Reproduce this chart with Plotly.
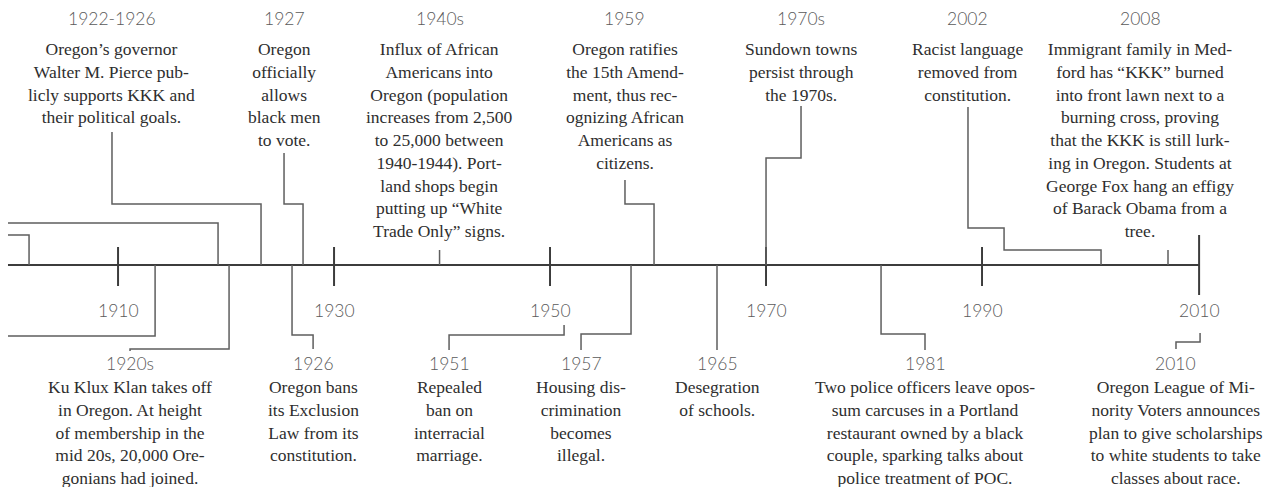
import plotly.graph_objects as go

# ---------------- data ----------------
tick_years = [1910, 1930, 1950, 1970, 1990, 2010]
tick_labels = ["1910", "1930", "1950", "1970", "1990", "2010"]

event_dates = ["1922-1926", "1927", "1940s", "1959", "1970s", "2002", "2008",
               "1920s", "1926", "1951", "1957", "1965", "1981", "2010"]
event_years = [1923.24, 1927.13, 1939.77, 1959.63, 1970.0, 2001.02, 2007.22,
               1920.28, 1926.11, 1951.30, 1957.50, 1965.46, 1980.65, 2010.19]
event_side = ["top"] * 7 + ["bottom"] * 7
event_text = [
    "Oregon’s governor<br>Walter M. Pierce pub-<br>licly supports KKK and<br>their political goals.",
    "Oregon<br>officially<br>allows<br>black men<br>to vote.",
    "Influx of African<br>Americans into<br>Oregon (population<br>increases from 2,500<br>to 25,000 between<br>1940-1944). Port-<br>land shops begin<br>putting up “White<br>Trade Only” signs.",
    "Oregon ratifies<br>the 15th Amend-<br>ment, thus rec-<br>ognizing African<br>Americans as<br>citizens.",
    "Sundown towns<br>persist through<br>the 1970s.",
    "Racist language<br>removed from<br>constitution.",
    "Immigrant family in Med-<br>ford has “KKK” burned<br>into front lawn next to a<br>burning cross, proving<br>that the KKK is still lurk-<br>ing in Oregon. Students at<br>George Fox hang an effigy<br>of Barack Obama from a<br>tree.",
    "Ku Klux Klan takes off<br>in Oregon. At height<br>of membership in the<br>mid 20s, 20,000 Ore-<br>gonians had joined.",
    "Oregon bans<br>its Exclusion<br>Law from its<br>constitution.",
    "Repealed<br>ban on<br>interracial<br>marriage.",
    "Housing dis-<br>crimination<br>becomes<br>illegal.",
    "Desegration<br>of schools.",
    "Two police officers leave opos-<br>sum carcuses in a Portland<br>restaurant owned by a black<br>couple, sparking talks about<br>police treatment of POC.",
    "Oregon League of Mi-<br>nority Voters announces<br>plan to give scholarships<br>to white students to take<br>classes about race.",
]
# earlier events whose labels lie left of the visible window (axis attach years)
offscreen_years = [1919.26, 1901.76, 1913.43]
offscreen_side = ["top", "top", "bottom"]

# ---------------- layout (positions, styles) ----------------
X0, X1 = 1899.07, 2016.85          # visible year window
AXIS_Y = 265
LINE_START = 1899.81
label_x = [1909.44, 1925.37, 1939.77, 1956.94, 1973.24, 1988.70, 2004.63,
           1911.11, 1928.06, 1940.65, 1952.87, 1965.46, 1984.72, 2007.96]
# each route: list of points; "A" = anchor year, "L" = label x
routes = [
    [("A", AXIS_Y), ("A", 204), ("L", 204), ("L", 132)],
    [("A", AXIS_Y), ("A", 204), ("L", 204), ("L", 153)],
    [("A", AXIS_Y), ("A", 250)],
    [("A", AXIS_Y), ("A", 204), ("L", 204), ("L", 180)],
    [("A", AXIS_Y), ("A", 158), ("L", 158), ("L", 106)],
    [("A", AXIS_Y), ("A", 250), (1992.04, 250), (1992.04, 228), ("L", 228), ("L", 107)],
    [("A", AXIS_Y), ("A", 250)],
    [("A", AXIS_Y), ("A", 349), ("L", 349), ("L", 351)],
    [("A", AXIS_Y), ("A", 335), ("L", 335), ("L", 349)],
    [("A", 325), ("A", 335), ("L", 335), ("L", 350)],
    [("A", AXIS_Y), ("A", 334), ("L", 334), ("L", 350)],
    [("A", AXIS_Y), ("A", 350)],
    [("A", AXIS_Y), ("A", 334), ("L", 334), ("L", 350)],
    [("A", 333), ("A", 342), ("L", 342), ("L", 349)],
]
offscreen_elbow = [223, 235, 336]

YEAR_FONT = dict(family="Lato", size=17.5, color="#5a5a5a", weight=300)
BODY_FONT = dict(family="Liberation Serif", size=17.5, color="#2e2e2e")
AXIS_COLOR = "#3c3c3c"
CONN_COLOR = "#5e5e5e"

fig = go.Figure()

# main axis
fig.add_trace(go.Scatter(x=[LINE_START, tick_years[-1] + 0.1], y=[AXIS_Y, AXIS_Y],
                         mode="lines", line=dict(color=AXIS_COLOR, width=2),
                         hoverinfo="skip", showlegend=False))
# ticks
for k, ty in enumerate(tick_years):
    last = k == len(tick_years) - 1
    top, bot = (235, 295) if last else (247, 286)
    xx = ty + 0.1 if last else ty
    fig.add_trace(go.Scatter(x=[xx, xx], y=[top, bot], mode="lines",
                             line=dict(color=AXIS_COLOR, width=2),
                             hoverinfo="skip", showlegend=False))
    fig.add_annotation(x=xx, y=310, xref="x", yref="y", text=tick_labels[k],
                       showarrow=False, font=YEAR_FONT, xanchor="center", yanchor="middle")

# connectors
for i, route in enumerate(routes):
    xs, ys = [], []
    for px, py in route:
        if px == "A":
            xs.append(event_years[i])
        elif px == "L":
            xs.append(label_x[i])
        else:
            xs.append(px)
        ys.append(py)
    fig.add_trace(go.Scatter(x=xs, y=ys, mode="lines",
                             line=dict(color=CONN_COLOR, width=1.5),
                             hoverinfo="skip", showlegend=False))

for yr, side, ey in zip(offscreen_years, offscreen_side, offscreen_elbow):
    fig.add_trace(go.Scatter(x=[yr, yr, LINE_START], y=[AXIS_Y, ey, ey], mode="lines",
                             line=dict(color=CONN_COLOR, width=1.5),
                             hoverinfo="skip", showlegend=False))

# labels
for i in range(len(event_dates)):
    if event_side[i] == "top":
        ylab, ybody = 18, 37
    else:
        ylab, ybody = 363, 375
    fig.add_annotation(x=label_x[i], y=ylab, xref="x", yref="y", text=event_dates[i],
                       showarrow=False, font=YEAR_FONT, xanchor="center", yanchor="middle")
    fig.add_annotation(x=label_x[i], y=ybody, xref="x", yref="y", text=event_text[i],
                       showarrow=False, font=BODY_FONT, xanchor="center", yanchor="top",
                       align="center")

fig.update_layout(
    width=1272, height=487,
    margin=dict(l=0, r=0, t=0, b=0),
    paper_bgcolor="white", plot_bgcolor="white",
    xaxis=dict(range=[X0, X1], visible=False, fixedrange=True),
    yaxis=dict(range=[487, 0], visible=False, fixedrange=True),
    showlegend=False,
)

fig.write_html(
    "out.html",
    config={"displayModeBar": False, "staticPlot": True},
    post_script="document.body.style.margin='0';document.body.style.overflow='hidden';",
)
